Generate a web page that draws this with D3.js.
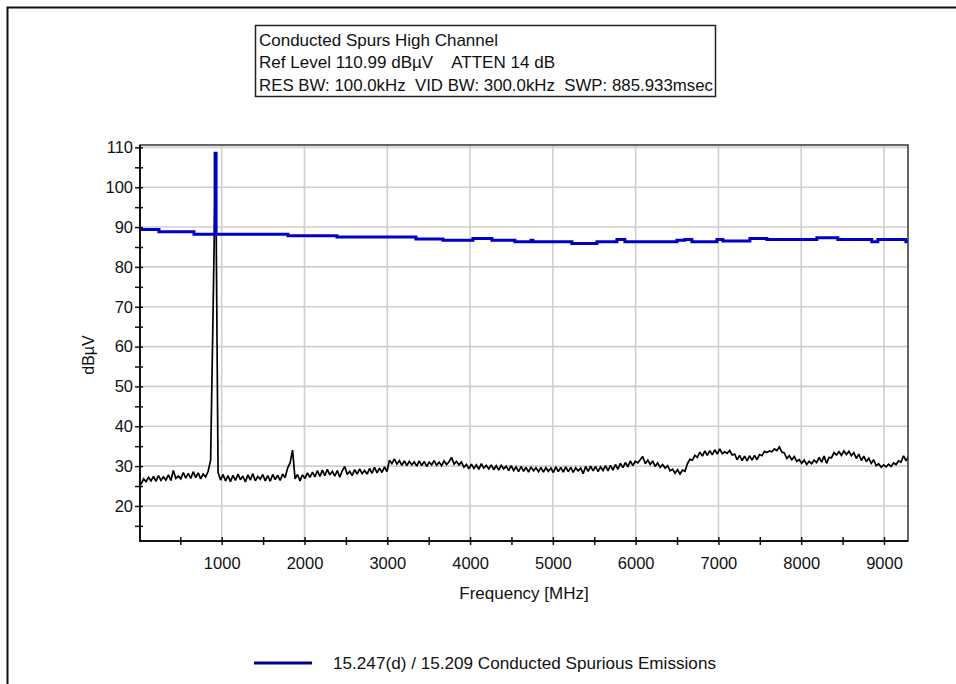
<!DOCTYPE html>
<html>
<head>
<meta charset="utf-8">
<script src="https://cdn.jsdelivr.net/npm/d3@7"></script>
<style>
  html, body { margin: 0; padding: 0; background: #fff; }
  svg { display: block; font-family: "Liberation Sans", Arial, sans-serif; }
</style>
</head>
<body>
<svg id="chart" width="956" height="684"></svg>
<script>
// Header block text
const headerLines = [
  "Conducted Spurs High Channel",
  "Ref Level 110.99 dBµV    ATTEN 14 dB",
  "RES BW: 100.0kHz  VID BW: 300.0kHz  SWP: 885.933msec"
];
const legendLabel = "15.247(d) / 15.209 Conducted Spurious Emissions";
const xTitle = "Frequency [MHz]";
const yTitle = "dBµV";

// Axis ticks
const xMajorTicks = [1000, 2000, 3000, 4000, 5000, 6000, 7000, 8000, 9000];
const xMinorTicks = [500, 1500, 2500, 3500, 4500, 5500, 6500, 7500, 8500];
const yMajorTicks = [20, 30, 40, 50, 60, 70, 80, 90, 100, 110];
const yMinorTicks = [15, 25, 35, 45, 55, 65, 75, 85, 95, 105];

// Limit line (step function): frequency in MHz where each level begins, level in dBµV
const limitFreqs = [13, 242, 665, 920, 932, 1800, 2392, 3346, 3672, 4035, 4264, 4542, 4735, 4759,
  5230, 5532, 5774, 5870, 6499, 6595, 6680, 6982, 7054, 7380, 7585, 8189, 8443, 8853, 8926, 9264, 9290];
const limitLevels = [89.4, 88.8, 88.2, 108.5, 88.2, 87.8, 87.5, 87.0, 86.7, 87.1, 86.7, 86.3, 86.7, 86.3,
  85.9, 86.3, 86.9, 86.3, 86.7, 86.9, 86.3, 86.9, 86.5, 87.1, 86.9, 87.3, 86.9, 86.3, 86.9, 86.3, 86.3];

// Measured sweep: first point and spacing (MHz), then levels in dBµV
const sweepStart = 26;
const sweepStep = 30;
const sweepLevels = [
  25.4, 26.8, 26.1, 27.2, 26.3, 27.4, 26.2, 27.6, 26.4, 27.3,
  26.5, 27.8, 26.4, 28.9, 26.9, 27.5, 26.8, 28.4, 27.0, 28.2,
  26.9, 28.6, 27.1, 28.3, 26.8, 28.0, 27.3, 28.7, 31.5, 69.0,
  108.5, 28.4, 26.5, 27.9, 26.3, 27.6, 26.1, 27.7, 26.4, 28.0,
  26.6, 27.5, 26.0, 27.8, 26.5, 28.1, 26.3, 27.4, 26.7, 27.9,
  26.3, 27.6, 26.2, 27.9, 26.6, 27.7, 26.4, 28.0, 27.1, 29.5,
  30.8, 34.0, 26.8, 27.9, 26.3, 27.8, 26.9, 28.3, 27.2, 28.5,
  27.3, 28.9, 27.4, 29.0, 27.6, 29.2, 27.8, 28.7, 27.5, 28.9,
  27.2, 28.8, 29.9, 27.9, 28.7, 27.6, 29.1, 28.0, 29.3, 28.1,
  28.9, 28.0, 29.4, 28.2, 29.7, 28.3, 29.5, 28.4, 29.8, 28.6,
  31.5, 30.6, 31.8, 30.5, 31.4, 30.2, 31.3, 30.1, 31.2, 30.3,
  31.1, 30.0, 31.3, 30.1, 31.2, 29.9, 31.0, 30.3, 31.4, 30.2,
  31.0, 30.1, 31.3, 30.4, 31.1, 32.2, 30.5, 31.2, 30.3, 31.0,
  29.7, 30.4, 29.3, 30.5, 29.4, 30.3, 29.2, 30.6, 29.5, 30.2,
  29.3, 30.3, 29.1, 30.1, 29.0, 30.2, 29.3, 30.0, 28.9, 30.1,
  28.9, 29.8, 28.6, 29.9, 28.7, 29.7, 28.5, 29.8, 28.8, 29.6,
  28.6, 29.7, 28.5, 29.6, 28.7, 29.5, 28.4, 29.8, 28.6, 29.7,
  28.5, 29.8, 28.6, 29.7, 28.4, 29.6, 28.8, 29.5, 28.1, 29.9,
  28.7, 30.0, 28.8, 29.9, 28.6, 29.8, 28.9, 30.1, 28.8, 30.2,
  29.0, 30.4, 29.2, 30.7, 29.6, 30.9, 29.8, 31.3, 30.1, 31.2,
  30.8, 31.6, 32.4, 30.6, 31.5, 30.4, 31.3, 29.9, 30.8, 29.7,
  30.4, 29.5, 30.1, 28.8, 29.2, 28.2, 29.1, 28.0, 29.0, 28.7,
  30.6, 31.7, 31.5, 32.7, 32.2, 33.5, 32.5, 33.8, 32.7, 33.9,
  32.8, 34.1, 33.0, 34.3, 33.1, 33.6, 33.2, 33.9, 32.8, 33.0,
  31.6, 32.7, 31.4, 32.5, 31.3, 32.6, 31.5, 32.7, 31.6, 32.9,
  32.6, 33.7, 33.4, 33.8, 33.6, 34.3, 33.9, 34.8, 33.5, 33.3,
  31.9, 32.6, 31.6, 32.4, 31.2, 31.6, 30.7, 31.5, 30.4, 31.2,
  30.6, 31.5, 30.9, 32.2, 31.0, 32.5, 30.7, 32.2, 32.1, 33.4,
  32.8, 33.6, 32.7, 33.8, 32.9, 33.7, 32.6, 33.4, 31.9, 33.0,
  31.4, 32.5, 31.1, 32.0, 30.7, 31.6, 30.1, 30.6, 29.7, 30.3,
  29.8, 30.5, 29.9, 30.8, 30.4, 31.3, 31.0, 32.6, 31.3, 32.4
];

const svg = d3.select("#chart");
const font = "\"Liberation Sans\", Arial, sans-serif";

// Plot area
const plot = { left: 140, right: 908, top: 145, bottom: 541 };
const x = d3.scaleLinear().domain([13, 9290]).range([plot.left, plot.right]);
const y = d3.scaleLinear().domain([11.2, 110.6]).range([plot.bottom, plot.top]);

// Outer window frame (top and left edges)
svg.append("path")
  .attr("d", "M7.5,684 V7.5 H956")
  .attr("fill", "none")
  .attr("stroke", "#111")
  .attr("stroke-width", 2);

// Header box
svg.append("rect")
  .attr("x", 255.5).attr("y", 25.5)
  .attr("width", 460).attr("height", 71)
  .attr("fill", "#fff")
  .attr("stroke", "#222")
  .attr("stroke-width", 1.5);

const headerWidths = [239, 296, 454];
svg.selectAll("text.header")
  .data(headerLines)
  .join("text")
  .attr("class", "header")
  .attr("x", 259)
  .attr("y", (d, i) => [46, 68, 90.5][i])
  .attr("font-size", 17)
  .attr("fill", "#111")
  .attr("textLength", (d, i) => headerWidths[i])
  .attr("lengthAdjust", "spacingAndGlyphs")
  .style("white-space", "pre")
  .text(d => d);

// Gridlines
const grid = svg.append("g").attr("stroke", "#cfcfcf").attr("stroke-width", 1.6);
grid.selectAll("line.gx")
  .data(xMajorTicks)
  .join("line")
  .attr("x1", d => x(d)).attr("x2", d => x(d))
  .attr("y1", plot.top).attr("y2", plot.bottom);
grid.selectAll("line.gy")
  .data(yMajorTicks)
  .join("line")
  .attr("y1", d => y(d)).attr("y2", d => y(d))
  .attr("x1", plot.left).attr("x2", plot.right);

// Clip for traces
svg.append("clipPath").attr("id", "plotClip")
  .append("rect")
  .attr("x", plot.left).attr("y", plot.top)
  .attr("width", plot.right - plot.left).attr("height", plot.bottom - plot.top);

// Measured trace
const sweep = sweepLevels.map((v, i) => ({ f: sweepStart + i * sweepStep, v }));
svg.append("path")
  .datum(sweep)
  .attr("clip-path", "url(#plotClip)")
  .attr("fill", "none")
  .attr("stroke", "#000")
  .attr("stroke-width", 1.7)
  .attr("stroke-linejoin", "miter")
  .attr("stroke-miterlimit", 2)
  .attr("d", d3.line().x(d => x(d.f)).y(d => y(d.v)));

// Limit line
const limit = limitFreqs.map((f, i) => ({ f, v: limitLevels[i] }));
svg.append("path")
  .datum(limit)
  .attr("clip-path", "url(#plotClip)")
  .attr("fill", "none")
  .attr("stroke", "#0000c8")
  .attr("stroke-width", 3)
  .attr("d", d3.line().curve(d3.curveStepAfter).x(d => x(d.f)).y(d => y(d.v)));

// Plot frame
svg.append("rect")
  .attr("x", plot.left).attr("y", plot.top)
  .attr("width", plot.right - plot.left).attr("height", plot.bottom - plot.top)
  .attr("fill", "none")
  .attr("stroke", "#333")
  .attr("stroke-width", 1.5);
svg.append("path")
  .attr("d", `M${plot.left},${plot.top} V${plot.bottom} H${plot.right}`)
  .attr("fill", "none")
  .attr("stroke", "#111")
  .attr("stroke-width", 2);

// Y axis (ticks cross the axis line)
const yAxisG = svg.append("g").attr("transform", `translate(${plot.left + 3},0)`);
yAxisG.call(d3.axisLeft(y).tickValues(yMajorTicks).tickSize(8).tickPadding(2).tickFormat(d3.format("d")));
const yMinorG = svg.append("g").attr("transform", `translate(${plot.left + 3},0)`);
yMinorG.call(d3.axisLeft(y).tickValues(yMinorTicks).tickSize(8).tickFormat(""));

// X axis
const xAxisG = svg.append("g").attr("transform", `translate(0,${plot.bottom - 4})`);
xAxisG.call(d3.axisBottom(x).tickValues(xMajorTicks).tickSize(8).tickPadding(12).tickFormat(d3.format("d")));
const xMinorG = svg.append("g").attr("transform", `translate(0,${plot.bottom - 4})`);
xMinorG.call(d3.axisBottom(x).tickValues(xMinorTicks).tickSize(8).tickFormat(""));

[yAxisG, yMinorG, xAxisG, xMinorG].forEach(g => {
  g.select(".domain").remove();
  g.selectAll(".tick line").attr("stroke", "#111").attr("stroke-width", 1.5);
  g.selectAll(".tick text")
    .attr("font-family", font)
    .attr("font-size", 16.5)
    .attr("fill", "#111");
});

// Axis titles
svg.append("text")
  .attr("x", (plot.left + plot.right) / 2)
  .attr("y", 599)
  .attr("text-anchor", "middle")
  .attr("font-size", 17)
  .attr("fill", "#111")
  .text(xTitle);

svg.append("text")
  .attr("transform", `translate(94,355) rotate(-90)`)
  .attr("text-anchor", "middle")
  .attr("font-size", 16)
  .attr("fill", "#111")
  .text(yTitle);

// Legend
svg.append("line")
  .attr("x1", 254).attr("x2", 312)
  .attr("y1", 663).attr("y2", 663)
  .attr("stroke", "#00008c")
  .attr("stroke-width", 3);
svg.append("text")
  .attr("x", 333)
  .attr("y", 669)
  .attr("font-size", 17)
  .attr("fill", "#111")
  .attr("textLength", 383)
  .attr("lengthAdjust", "spacingAndGlyphs")
  .text(legendLabel);
</script>
</body>
</html>
